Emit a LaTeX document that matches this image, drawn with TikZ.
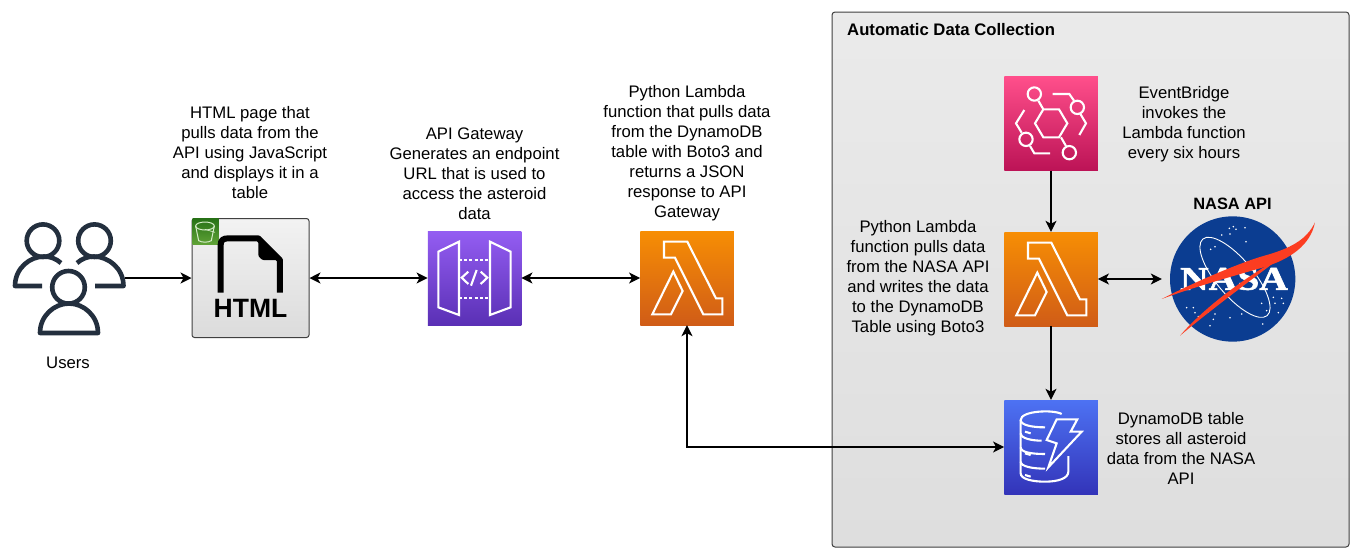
\documentclass[tikz,border=0pt]{standalone}
\usepackage{fontspec}
\setmainfont{Liberation Sans}
\newfontfamily\logoserif[BoldFeatures={FakeBold=1.6}]{Liberation Serif}
\usetikzlibrary{arrows.meta}
\definecolor{inkdark}{HTML}{232F3E}
\definecolor{nasablue}{HTML}{0B3D91}
\definecolor{nasared}{HTML}{FC3D21}
\definecolor{sgreenT}{HTML}{277116}
\definecolor{sgreenB}{HTML}{60A337}
\definecolor{sline}{HTML}{D5ECC8}
\definecolor{apiT}{HTML}{945DF2}
\definecolor{apiB}{HTML}{5A30B5}
\definecolor{lamT}{HTML}{F78E04}
\definecolor{lamB}{HTML}{D05C17}
\definecolor{evT}{HTML}{FF4F8B}
\definecolor{evB}{HTML}{BC1356}
\definecolor{dyT}{HTML}{4D72F3}
\definecolor{dyB}{HTML}{3334B9}
\tikzset{
  every node/.style={font=\fontsize{16.7}{20}\selectfont,align=center,inner sep=0pt},
  iconbox/.style={minimum width=93.5,minimum height=94,draw=none},
  conn/.style={line width=1.2pt,black},
  onetip/.style={conn,-{Stealth[inset=3pt,length=11pt,width=11pt]}},
  twotip/.style={conn,{Stealth[inset=3pt,length=11pt,width=11pt]}-{Stealth[inset=3pt,length=11pt,width=11pt]}},
  glyph/.style={draw=white,line width=2.1pt,line join=miter},
  people/.style={draw=inkdark,line width=4.6pt,line cap=round,line join=round},
}
\newcommand{\lamicon}[2]{%
  \begin{scope}[shift={(#1,#2)},x=0.3333pt,y=-0.3333pt]
    \draw[glyph] (762,65)--(832,65)--(918,235)--(937,235)--(937,283)--(880,283)--(795,113)--(762,113)--cycle;
    \draw[glyph] (790,155)--(818,213)--(783,283)--(727,283)--cycle;
  \end{scope}}
\begin{document}
\begin{tikzpicture}[x=1pt,y=-1pt]
\useasboundingbox (0,0) rectangle (1360,558);
\fill[white] (0,0) rectangle (1360,558);

% group box
\node[draw=black!75,line width=1pt,rounded corners=3pt,minimum width=517,minimum height=535,top color=black!8,bottom color=black!13] (group) at (1090.5,279.5) {};
\node[anchor=west,font=\fontsize{16.7}{20}\selectfont\bfseries] (grouptitle) at (847,29.5) {Automatic Data Collection};

% users
\node[minimum width=111,minimum height=112] (users) at (69.5,278) {};
\draw[people] (43,240.7) circle (16.3);
\draw[people] (94.5,240.7) circle (16.3);
\draw[people] (68.5,287.3) circle (16.3);
\draw[people,line cap=butt] (42,286) -- (15,286) .. controls (15,268) and (30,256.5) .. (44,256.5) .. controls (50,256.5) and (56,258.5) .. (61,263);
\draw[people,line cap=butt] (95,286) -- (123.5,286) .. controls (123.5,268) and (108,256.5) .. (94,256.5) .. controls (88,256.5) and (82,258.5) .. (77,263);
\draw[people] (40,333) .. controls (40,316) and (54,303.5) .. (69,303.5) .. controls (84,303.5) and (98,316) .. (98,333) -- cycle;
\node (userslabel) at (68,362.5) {Users};

% html
\node[draw=black!75,line width=1pt,rounded corners=2.5pt,minimum width=117,minimum height=119,top color=black!5,bottom color=black!14] (html) at (250.5,278) {};
\node[minimum width=26,minimum height=26,top color=sgreenT,bottom color=sgreenB] (s3) at (205.5,231.5) {};
\begin{scope}[shift={(0,200)},x=0.3333pt,y=-0.3333pt]
  \draw[sline,line width=1pt] (615,78) ellipse (28 and 12);
  \draw[sline,line width=1pt] (587,78) -- (596,122) .. controls (605,128) and (625,128) .. (634,122) -- (643,78);
  \draw[sline,line width=.7pt] (615,88) -- (645,97);
  \draw[black,line width=6pt,line join=round] (662,278) -- (662,135) .. controls (662,120) and (670,115) .. (685,115) -- (775,115) -- (840,180) -- (840,278);
  \fill[black,rounded corners=3pt] (775,112) -- (845,180) -- (800,180) .. controls (785,180) and (775,170) .. (775,155) -- cycle;
\end{scope}
\node[font=\fontsize{26.5}{30}\selectfont\bfseries] (htmltext) at (250.5,308.5) {HTML};
\node (htmllabel) at (250,153) {HTML page that\\pulls data from the\\API using JavaScript\\and displays it in a\\table};

% api gateway
\node[iconbox,top color=apiT,bottom color=apiB] (api) at (474.5,278) {};
\begin{scope}[shift={(410,220)},x=0.3333pt,y=-0.3333pt]
  \draw[glyph] (85,95)--(147,65)--(147,285)--(85,262)--cycle;
  \draw[glyph] (240,65)--(302,95)--(302,262)--(240,285)--cycle;
  \draw[glyph,dash pattern=on 3pt off 2.2pt] (147,120)--(240,120);
  \draw[glyph,dash pattern=on 3pt off 2.2pt] (147,233)--(240,233);
  \draw[glyph] (175,155)--(155,173)--(175,192);
  \draw[glyph] (212,155)--(232,173)--(212,192);
  \draw[glyph] (200,150)--(183,197);
\end{scope}
\node (apilabel) at (474.5,174) {API Gateway\\Generates an endpoint\\URL that is used to\\access the asteroid\\data};

% lambda 1
\node[iconbox,top color=lamT,bottom color=lamB] (lambdaa) at (687,278) {};
\lamicon{410}{220}
\node (lambdaalabel) at (687,153) {Python Lambda\\function that pulls data\\from the DynamoDB\\table with Boto3 and\\returns a JSON\\response to API\\Gateway};

% eventbridge
\node[iconbox,top color=evT,bottom color=evB] (events) at (1051,123.5) {};
\begin{scope}[shift={(990,70)},x=0.3333pt,y=-0.3333pt]
  \draw[glyph] (160,118)--(207,118)--(232,160)--(207,202)--(160,202)--(135,160)--cycle;
  \draw[glyph] (133,72) circle (20);
  \draw[glyph] (262,112) circle (20);
  \draw[glyph] (108,208) circle (20);
  \draw[glyph] (238,248) circle (20);
  \draw[glyph] (145,92)--(160,118);
  \draw[glyph] (213,202)--(228,228);
  \draw[glyph] (188,72)--(238,72)--(252,92);
  \draw[glyph] (270,130)--(288,160)--(268,195);
  \draw[glyph] (103,120)--(78,160)--(95,188);
  \draw[glyph] (120,228)--(133,250)--(180,250);
\end{scope}
\node (eventslabel) at (1184,124) {EventBridge\\invokes the\\Lambda function\\every six hours};

% lambda 2
\node[iconbox,top color=lamT,bottom color=lamB] (lambdab) at (1051,279) {};
\lamicon{774}{221}
\node (lambdablabel) at (918,278.5) {Python Lambda\\function pulls data\\from the NASA API\\and writes the data\\to the DynamoDB\\Table using Boto3};

% dynamodb
\node[iconbox,top color=dyT,bottom color=dyB] (dynamo) at (1051,447) {};
\begin{scope}[shift={(990,390)},x=0.3333pt,y=-0.3333pt]
  \draw[glyph] (215,72) .. controls (190,58) and (92,62) .. (92,90) .. controls (92,105) and (125,112) .. (165,112);
  \draw[glyph] (92,90) -- (92,250) .. controls (92,268) and (130,275) .. (165,275) .. controls (205,275) and (235,265) .. (235,245) -- (235,198);
  \draw[glyph] (92,130) .. controls (92,145) and (125,152) .. (155,152);
  \draw[glyph] (92,172) .. controls (92,187) and (125,192) .. (165,192);
  \draw[glyph] (92,215) .. controls (92,230) and (130,236) .. (165,236);
  \draw[glyph] (105,125)--(122,130);
  \draw[glyph] (105,190)--(122,195);
  \draw[glyph] (105,255)--(122,260);
  \draw[glyph] (200,88)--(262,88)--(242,125)--(275,125)--(175,232)--(200,160)--(170,150)--cycle;
\end{scope}
\node (dynamolabel) at (1181,448) {DynamoDB table\\stores all asteroid\\data from the NASA\\API};

% nasa
\node[minimum width=154,minimum height=130] (nasa) at (1239,279) {};
\node[font=\fontsize{16.4}{20}\selectfont\bfseries] (nasatitle) at (1232.5,203.5) {NASA API};
\begin{scope}[shift={(1150,190)},x=0.3333pt,y=-0.3333pt]
  \fill[nasablue] (248,267) circle (188);
  \foreach \sx/\sy in {250/110,285/113,238/115,258/118,215/135,240/132,288/155,195/170,182/178,370/322,395/325,400/340,375/340,335/340,350/362,385/368,110/353,130/353,135/368,145/380,175/365,195/372,190/388,240/383,180/407,275/372,338/402}
    \fill[white] (\sx,\sy) circle (2.6);
  \draw[white,line width=.9pt,rotate around={-50:(255,262)}] (255,262) ellipse (150 and 55);
\end{scope}
\node[font=\fontsize{33}{36}\logoserif\bfseries,text=white,transform shape,xscale=1.2] (nasaword) at (1234,279) {NASA};
\begin{scope}[shift={(1150,190)},x=0.3333pt,y=-0.3333pt]
  \fill[nasared] (35,327) .. controls (130,278) and (270,218) .. (340,198) .. controls (420,176) and (470,150) .. (495,97) .. controls (482,165) and (420,208) .. (340,232) .. controls (250,258) and (130,292) .. (35,327) -- cycle;
  \fill[nasared] (90,437) .. controls (170,345) and (290,260) .. (405,193) .. controls (300,272) and (180,362) .. (90,437) -- cycle;
\end{scope}

% connectors
\draw[onetip] (users.east) -- (html.west);
\draw[twotip] (html.east) -- (api.west);
\draw[twotip] (api.east) -- (lambdaa.west);
\draw[onetip] (events.south) -- (lambdab.north);
\draw[onetip] (lambdab.south) -- (dynamo.north);
\draw[twotip] (lambdab.east) -- (nasa.west);
\draw[twotip] (lambdaa.south) |- (dynamo.west);
\end{tikzpicture}
\end{document}
